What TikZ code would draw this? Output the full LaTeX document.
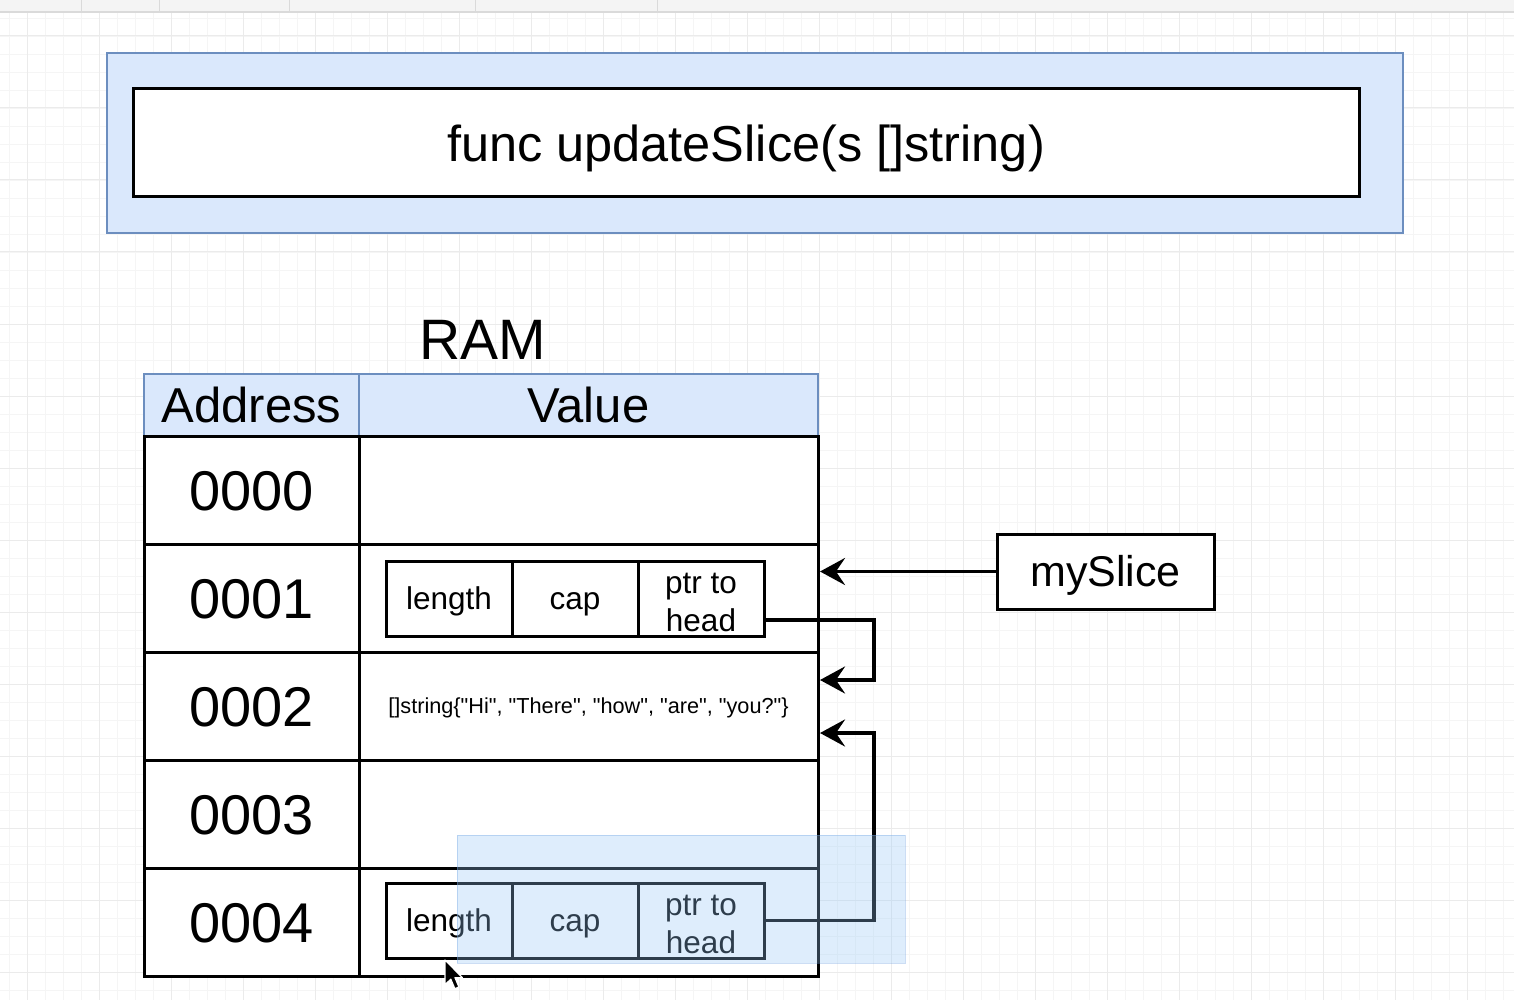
\documentclass[tikz,border=0pt]{standalone}
\usepackage{fontspec}
\setmainfont{Liberation Sans}
\newfontfamily\codefont{Liberation Sans}
\usetikzlibrary{arrows.meta}
\definecolor{bluefill}{HTML}{DAE8FC}
\definecolor{bluedraw}{HTML}{6C8EBF}
\definecolor{gridmajor}{HTML}{EBEBEB}
\definecolor{gridminor}{HTML}{F5F5F5}
\definecolor{toolbar}{HTML}{F4F4F4}
\definecolor{toolline}{HTML}{DADADA}
\definecolor{selfill}{RGB}{150,200,248}
\definecolor{seldraw}{RGB}{110,160,225}
\begin{document}
\begin{tikzpicture}[x=1pt,y=-1pt,
  blackbox/.style={draw=black, line width=3pt, fill=white, inner sep=0pt, outer sep=0pt},
  bluebox/.style={draw=bluedraw, line width=2.5pt, fill=bluefill, inner sep=0pt, outer sep=0pt},
  arr/.style={draw=black, line width=3.6pt, -{Stealth[length=25pt,width=27pt,inset=9pt]}},
  bigtxt/.style={font=\fontsize{56}{64}\selectfont, text height=40.1pt, text depth=0pt},
  midtxt/.style={font=\fontsize{49}{58}\selectfont, text height=35.1pt, text depth=0pt},
  smalltxt/.style={font=\fontsize{31.5}{38}\selectfont, text height=22.6pt, text depth=0pt},
  twoline/.style={font=\fontsize{31.5}{38}\selectfont, align=center, inner sep=0pt},
]
\useasboundingbox (0,0) rectangle (1514,1000);
\fill[white] (0,0) rectangle (1514,1000);
% grid
\foreach \x in {9,27,...,1511} \draw[gridminor, line width=0.8pt] (\x,12) -- (\x,1000);
\foreach \y in {18,36,...,999} \draw[gridminor, line width=0.8pt] (0,\y) -- (1514,\y);
\foreach \x in {27,99,...,1511} \draw[gridmajor, line width=1pt] (\x,12) -- (\x,1000);
\foreach \y in {36,108,...,999} \draw[gridmajor, line width=1pt] (0,\y) -- (1514,\y);
% toolbar strip
\fill[toolbar] (0,0) rectangle (1514,12);
\draw[toolline, line width=1.5pt] (0,12) -- (1514,12);
\foreach \x in {81,159,289,475,657} \draw[toolline, line width=1pt] (\x,0) -- (\x,12);

% function box
\node[bluebox, minimum width=1296, minimum height=180] (outer) at (755,143) {};
\node[blackbox, minimum width=1226, minimum height=108, font=\fontsize{50.5}{60}\selectfont, text height=36.2pt, text depth=0pt] (func) at (746,143) {func updateSlice(s []string)};

% RAM title
\node[font=\fontsize{57}{66}\selectfont, inner sep=0pt, text height=40.8pt, text depth=0pt] (ram) at (483,339) {RAM};

% table header
\node[bluebox, minimum width=215, minimum height=62, midtxt] (haddr) at (251.5,405) {Address};
\node[bluebox, minimum width=459, minimum height=62, midtxt] (hval) at (588.5,405) {Value};

% rows
\foreach \i/\lab in {0/0000,1/0001,2/0002,3/0003,4/0004} {
  \node[blackbox, minimum width=215, minimum height=108, bigtxt] (addr\i) at (251.5,490+108*\i) {\lab};
}
\node[blackbox, minimum width=459, minimum height=108] (val0) at (588.5,490) {};
\node[blackbox, minimum width=459, minimum height=108] (val1) at (588.5,598) {};
\node[blackbox, minimum width=459, minimum height=108, font=\codefont\fontsize{21.7}{26}\selectfont, text height=15.5pt, text depth=0pt] (val2) at (588.5,706) {[]string\{"Hi", "There", "how", "are", "you?"\}};
\node[blackbox, minimum width=459, minimum height=108] (val3) at (588.5,814) {};
\node[blackbox, minimum width=459, minimum height=108] (val4) at (588.5,922) {};

% slice headers
\node[blackbox, minimum width=126, minimum height=75, smalltxt] (len1) at (449,598.5) {length};
\node[blackbox, minimum width=126, minimum height=75, smalltxt] (cap1) at (575,598.5) {cap};
\node[blackbox, minimum width=126, minimum height=75] (ptr1) at (701,598.5) {};
\node[twoline] (ptr1t) at ([yshift=-4pt]ptr1.center) {ptr to\\head};
\node[blackbox, minimum width=126, minimum height=75, smalltxt] (len4) at (449,920.5) {length};
\node[blackbox, minimum width=126, minimum height=75, smalltxt] (cap4) at (575,920.5) {cap};
\node[blackbox, minimum width=126, minimum height=75] (ptr4) at (701,920.5) {};
\node[twoline] (ptr4t) at ([yshift=-4pt]ptr4.center) {ptr to\\head};

% mySlice
\node[blackbox, minimum width=217, minimum height=75, font=\fontsize{43}{50}\selectfont, text height=30.8pt, text depth=0pt] (myslice) at (1105.5,571.5) {mySlice};

% connectors
\coordinate (p1) at ([yshift=-21.5pt]ptr1.east);
\coordinate (t1) at ([xshift=2pt]val1.east |- myslice.west);
\coordinate (t2) at ([xshift=2pt,yshift=26pt]val2.east);
\coordinate (t3) at ([xshift=2pt,yshift=-27pt]val2.east);
\draw[arr] (myslice.west) -- (t1);
\draw[arr] (p1) -- ++(110,0) |- (t2);
\draw[arr] (ptr4.east) -- ++(110,0) |- (t3);

% selection rectangle
\fill[selfill, fill opacity=0.31] (457,835) rectangle (905,963);
\draw[seldraw, line width=1pt, draw opacity=0.35] (457,835) rectangle (905,963);

% mouse cursor
\begin{scope}[shift={(445,960)}, scale=1.45]
\draw[white, line width=1.2pt, fill=black, line join=round]
  (0,0) -- (0,17) -- (4,13.2) -- (6.8,19.8) -- (9.6,18.6) -- (6.9,12.2) -- (12,12.2) -- cycle;
\end{scope}
\end{tikzpicture}
\end{document}
